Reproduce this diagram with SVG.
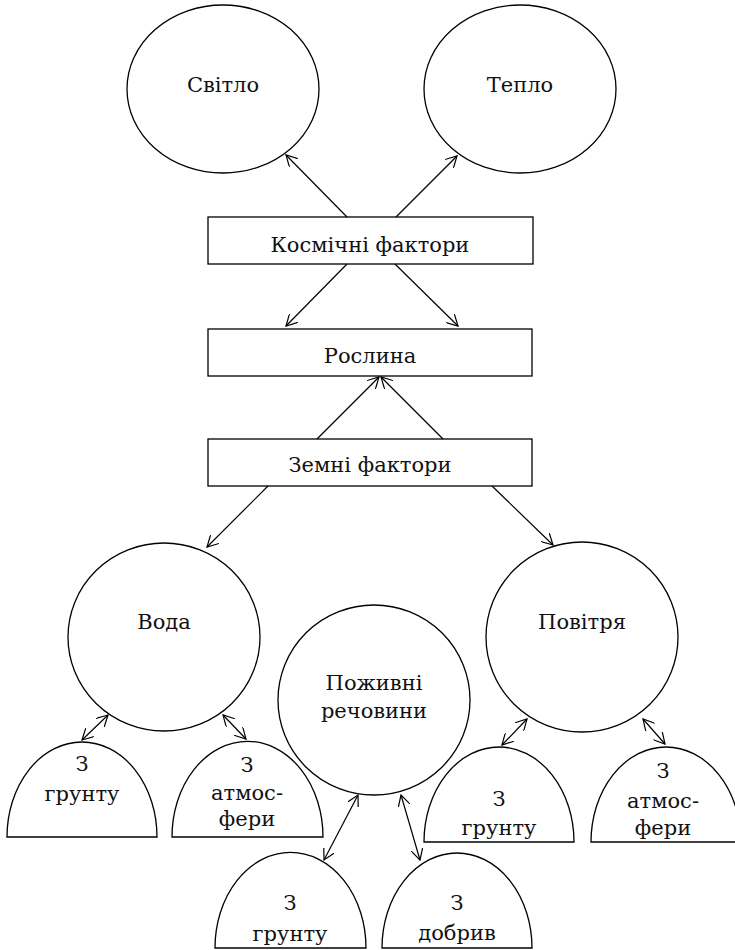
<svg xmlns="http://www.w3.org/2000/svg" width="735" height="950" viewBox="0 0 735 950">
<defs>
<marker id="ah" viewBox="0 0 12 12" refX="11" refY="6" markerWidth="12" markerHeight="12" markerUnits="userSpaceOnUse" orient="auto-start-reverse">
<path d="M0,0 L11,6 L0,12" fill="none" stroke="#000" stroke-width="1.2"/>
</marker>
<style>
.s{fill:#fff;stroke:#000;stroke-width:1.3}
.c{fill:none;stroke:#000;stroke-width:1.2}
.one{marker-end:url(#ah)}
.two{marker-start:url(#ah);marker-end:url(#ah)}
.t{font-family:'DejaVu Serif',serif;font-size:21px;fill:#111;text-anchor:middle}
.m{font-size:21px}
</style>
</defs>
<rect width="735" height="950" fill="#fff"/>
<g id="svitlo"><ellipse class="s" cx="223" cy="89" rx="96" ry="84"/><text class="t" x="223" y="92">Світло</text></g>
<g id="teplo"><ellipse class="s" cx="520" cy="89" rx="96" ry="84"/><text class="t" x="520" y="92">Тепло</text></g>
<g id="kosmichni"><rect class="s" x="208" y="217" width="325" height="47"/><text class="t" x="370" y="252">Космічні фактори</text></g>
<g id="roslyna"><rect class="s" x="208" y="329" width="324" height="47"/><text class="t" x="370" y="363">Рослина</text></g>
<g id="zemni"><rect class="s" x="208" y="439" width="324" height="47"/><text class="t" x="370" y="472">Земні фактори</text></g>
<g id="voda"><ellipse class="s" cx="164" cy="637" rx="96" ry="94"/><text class="t" x="164" y="629">Вода</text></g>
<g id="pozhyvni"><ellipse class="s" cx="374" cy="700" rx="96" ry="95"/><text class="t" x="374" y="690">Поживні</text><text class="t" x="374" y="718">речовини</text></g>
<g id="povitria"><ellipse class="s" cx="582" cy="637" rx="96" ry="95"/><text class="t" x="582" y="629">Повітря</text></g>
<g id="voda-gruntu"><path class="s" d="M7,837 A75,95 0 0 1 157,837 Z"/><text class="t" x="82" y="771">З</text><text class="t" x="82" y="801">грунту</text></g>
<g id="voda-atmosfery"><path class="s" d="M172,837 A75,95 0 0 1 323,837 Z"/><text class="t m" x="247" y="772">З</text><text class="t m" x="247" y="800">атмос-</text><text class="t m" x="247" y="826">фери</text></g>
<g id="povitria-gruntu"><path class="s" d="M424,842 A75,95 0 0 1 574,842 Z"/><text class="t" x="499" y="806">З</text><text class="t" x="499" y="835">грунту</text></g>
<g id="povitria-atmosfery"><path class="s" d="M591,842 A75,95 0 0 1 741,842 Z"/><text class="t m" x="663" y="778">З</text><text class="t m" x="663" y="808">атмос-</text><text class="t m" x="663" y="835">фери</text></g>
<g id="pozhyvni-gruntu"><path class="s" d="M215,948 A75,95 0 0 1 366,948 Z"/><text class="t" x="290" y="910">З</text><text class="t" x="290" y="941">грунту</text></g>
<g id="pozhyvni-dobryv"><path class="s" d="M382,948 A75,95 0 0 1 532,948 Z"/><text class="t" x="457" y="910">З</text><text class="t" x="457" y="940">добрив</text></g>
<g id="connectors">
<line class="c one" x1="347" y1="217" x2="286" y2="155"/>
<line class="c one" x1="396" y1="217" x2="457" y2="156"/>
<line class="c one" x1="347" y1="264" x2="286" y2="326"/>
<line class="c one" x1="395" y1="264" x2="458" y2="326"/>
<line class="c one" x1="317" y1="439" x2="379" y2="377"/>
<line class="c one" x1="443" y1="439" x2="381" y2="377"/>
<line class="c one" x1="268" y1="486" x2="207" y2="547"/>
<line class="c one" x1="492" y1="486" x2="553" y2="545"/>
<line class="c two" x1="82" y1="740" x2="108" y2="715"/>
<line class="c two" x1="223" y1="715" x2="246" y2="739"/>
<line class="c two" x1="502" y1="745" x2="527" y2="719"/>
<line class="c two" x1="643" y1="719" x2="665" y2="744"/>
<line class="c two" x1="324" y1="860" x2="358" y2="795"/>
<line class="c two" x1="401" y1="795" x2="420" y2="860"/>
</g>
</svg>
